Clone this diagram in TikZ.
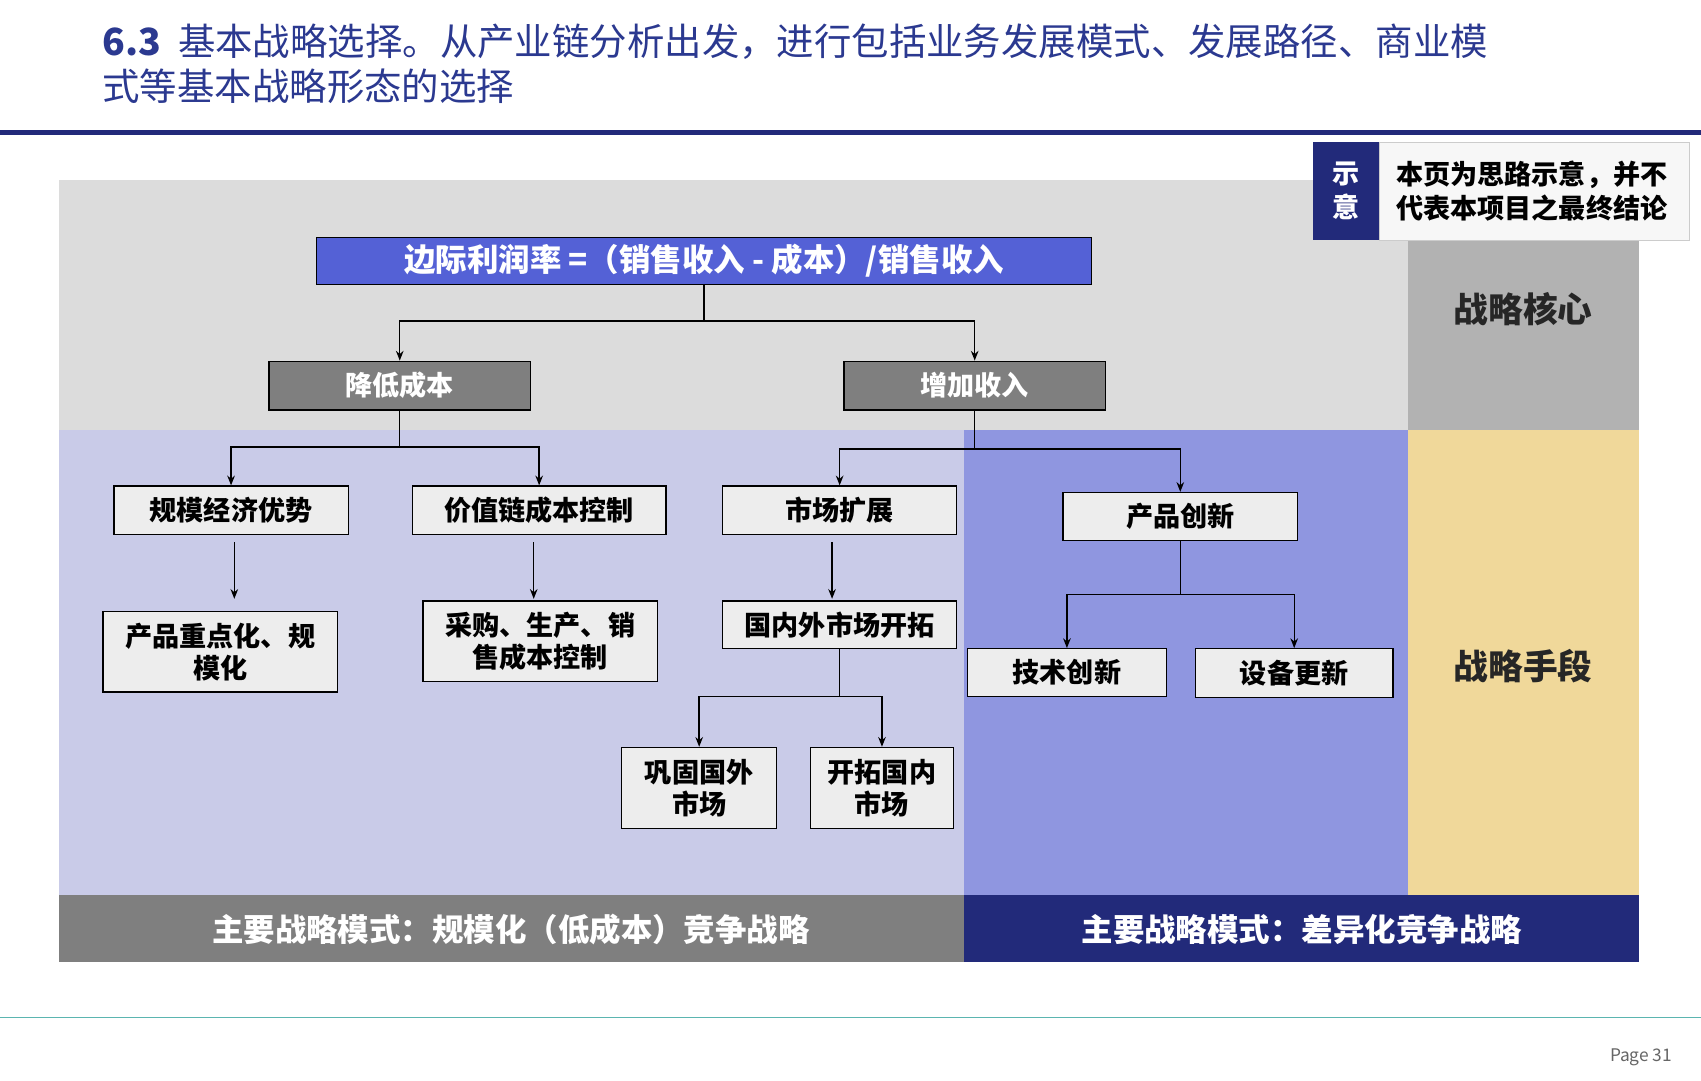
\documentclass[tikz,border=0pt]{standalone}
\usepackage{fontspec}
\setmainfont{Noto Sans CJK SC}
\usetikzlibrary{arrows.meta}
\definecolor{navy}{HTML}{222A7A}
\definecolor{ttl}{HTML}{2B3990}
\definecolor{bgg}{HTML}{DCDCDC}
\definecolor{lp}{HTML}{C9CBE8}
\definecolor{mb}{HTML}{8F96E0}
\definecolor{tan}{HTML}{F0D89A}
\definecolor{dg}{HTML}{7F7F7F}
\definecolor{tb}{HTML}{5461D6}
\tikzset{
 box/.style={draw=black,line width=1.2pt,fill=#1,inner sep=0pt,align=center,font=\fontsize{25}{29}\selectfont\bfseries},
 lbox/.style={box=black!7},
 arr/.style={line width=1.3pt,-{Stealth[length=9pt,width=7pt]}},
 ln/.style={line width=1.3pt},
}
\begin{document}
\begin{tikzpicture}[x=1pt,y=-1pt]
\useasboundingbox (0,0) rectangle (1568,996);
\fill[white] (0,0) rectangle (1568,996);
\node[anchor=west,text=ttl,font=\fontsize{34.5}{38}\selectfont] (t1) at (91,38) {\textbf{6.3}\ \ 基本战略选择。从产业链分析出发，进行包括业务发展模式、发展路径、商业模};
\node[anchor=west,text=ttl,font=\fontsize{34.5}{38}\selectfont] (t2) at (91,80) {式等基本战略形态的选择};
\draw[navy,line width=4pt] (0,122)--(1568,122);
% backgrounds
\fill[bgg] (54,166) rectangle (1298,396);
\fill[black!30] (1298,220) rectangle (1511,396);
\fill[lp] (54,396) rectangle (889,825);
\fill[mb] (889,396) rectangle (1298,825);
\fill[tan] (1298,396) rectangle (1511,825);
\fill[dg] (54,825) rectangle (889,887);
\fill[navy] (889,825) rectangle (1511,887);
\node[font=\fontsize{32}{36}\selectfont\bfseries,text=black!85] (k1) at (1404,285) {战略核心};
\node[font=\fontsize{32}{36}\selectfont\bfseries,text=black!85] (k2) at (1404,614) {战略手段};
\node[font=\fontsize{29}{33}\selectfont\bfseries,text=white] (b1) at (471,857) {主要战略模式：规模化（低成本）竞争战略};
\node[font=\fontsize{29}{33}\selectfont\bfseries,text=white] (b2) at (1200,857) {主要战略模式：差异化竞争战略};
% legend
\fill[navy] (1210,131) rectangle (1271,221);
\node[text=white,font=\fontsize{25}{32}\selectfont\bfseries,align=center] (l1) at (1241,176) {示\\意};
\draw[fill=black!3,draw=black!20] (1271,131) rectangle (1557,221);
\node[font=\fontsize{25}{31}\selectfont\bfseries,align=left] (l2) at (1412,176) {本页为思路示意，并不\\代表本项目之最终结论};
% boxes
\node[box=tb,text=white,minimum width=714pt,minimum height=43pt,font=\fontsize{29}{32}\selectfont\bfseries] (top) at (649,240.5) {边际利润率 =（销售收入 - 成本）/销售收入};
\node[box=dg,text=white,minimum width=241pt,minimum height=45pt] (c1) at (368.5,355.5) {降低成本};
\node[box=dg,text=white,minimum width=241pt,minimum height=45pt] (c2) at (898.5,355.5) {增加收入};
\node[lbox,minimum width=216pt,minimum height=45pt] (d1) at (213,470.5) {规模经济优势};
\node[lbox,minimum width=234pt,minimum height=45pt] (d2) at (497,470.5) {价值链成本控制};
\node[lbox,minimum width=216pt,minimum height=45pt] (d3) at (774,470.5) {市场扩展};
\node[lbox,minimum width=216pt,minimum height=44pt] (d4) at (1088,476) {产品创新};
\node[lbox,minimum width=216pt,minimum height=74pt] (e1) at (203,601) {产品重点化、规\\模化};
\node[lbox,minimum width=216pt,minimum height=74pt] (e2) at (498,591) {采购、生产、销\\售成本控制};
\node[lbox,minimum width=216pt,minimum height=44pt] (e3) at (774,576) {国内外市场开拓};
\node[lbox,minimum width=183pt,minimum height=44pt] (e4) at (983.5,620) {技术创新};
\node[lbox,minimum width=182pt,minimum height=45pt] (e5) at (1193,620.5) {设备更新};
\node[lbox,minimum width=143pt,minimum height=75pt] (f1) at (644.5,726.5) {巩固国外\\市场};
\node[lbox,minimum width=132pt,minimum height=75pt] (f2) at (813,726.5) {开拓国内\\市场};
% connectors
\coordinate (j1) at (649,296);
\draw[ln] (top.south)--(j1);
\draw[arr] (j1) -| (c1.north);
\draw[arr] (j1) -| (c2.north);
\coordinate (j2) at (368.5,412);
\draw[ln] (c1.south)--(j2);
\draw[arr] (j2) -| (d1.north);
\draw[arr] (j2) -| (d2.north);
\coordinate (j3) at (898.5,414);
\draw[ln] (c2.south)--(j3);
\draw[arr] (j3) -| (d3.north);
\draw[arr] (j3) -| (d4.north);
\coordinate (s1) at (216,500); \coordinate (s2) at (492,500); \coordinate (s3) at (767,500);
\draw[arr] (s1) -- (216,552);
\draw[arr] (s2) -- (492,552);
\draw[arr] (s3) -- (767,552);
\coordinate (j4) at (774,642);
\draw[ln] (e3.south)--(j4);
\draw[arr] (j4) -| (f1.north);
\draw[arr] (j4) -| (f2.north);
\coordinate (j5) at (1088,548);
\draw[ln] (d4.south)--(j5);
\draw[arr] (j5) -| (e4.north);
\draw[arr] (j5) -| (e5.north);
% footer
\draw[color={rgb,255:red,91;green,181;blue,176},line width=1.2pt] (0,938)--(1568,938);
\node[anchor=east,text=black!60,font=\fontsize{16}{18}\selectfont] (pg) at (1545,975) {Page 31};
\end{tikzpicture}
\end{document}
